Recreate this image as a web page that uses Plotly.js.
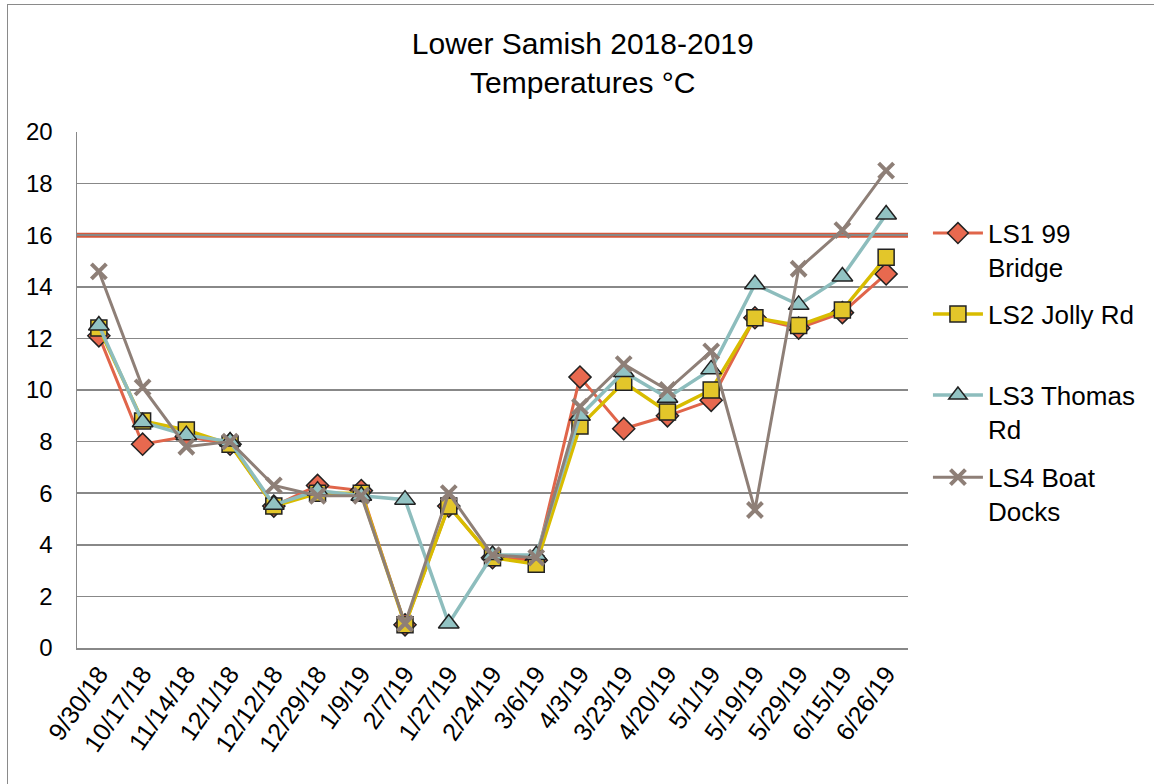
<!DOCTYPE html>
<html>
<head>
<meta charset="utf-8">
<script src="https://cdn.plot.ly/plotly-3.0.1.min.js"></script>
<style>
  html, body { margin: 0; padding: 0; background: #fff; }
  #frame { position: absolute; left: 7px; top: 4px; width: 1160px; height: 800px;
           border-left: 1.5px solid #8a8a8a; border-top: 1.5px solid #8a8a8a; pointer-events: none; }
  #chart { width: 1154px; height: 784px; }
</style>
</head>
<body>
<div id="chart"></div>
<div id="frame"></div>
<script>
// ---- data ----
const dates = ["9/30/18","10/17/18","11/14/18","12/1/18","12/12/18","12/29/18","1/9/19","2/7/19","1/27/19",
               "2/24/19","3/6/19","4/3/19","3/23/19","4/20/19","5/1/19","5/19/19","5/29/19","6/15/19","6/26/19"];
const ls1_99Bridge   = [12.1, 7.9, 8.2, 7.9, 5.5, 6.3, 6.1, 0.9, 5.5, 3.5, 3.4, 10.5, 8.5, 9.0, 9.6, 12.8, 12.4, 13.0, 14.5];
const ls2_JollyRd    = [12.4, 8.8, 8.45, 7.9, 5.5, 6.0, 6.0, 0.9, 5.5, 3.5, 3.25, 8.6, 10.3, 9.15, 10.0, 12.8, 12.5, 13.1, 15.15];
const ls3_ThomasRd   = [12.5, 8.75, 8.25, 8.0, 5.55, 6.1, 5.9, 5.75, 0.95, 3.6, 3.6, 9.0, 10.7, 9.7, 10.8, 14.1, 13.3, 14.4, 16.8];
const ls4_BoatDocks  = [14.6, 10.1, 7.8, 8.0, 6.3, 5.9, 5.9, 0.95, 6.0, 3.6, 3.5, 9.35, 11.0, 10.0, 11.5, 5.35, 14.7, 16.2, 18.5];
const seriesNames = ["LS1 99<br>Bridge", "LS2 Jolly Rd", "LS3 Thomas<br>Rd", "LS4 Boat<br>Docks"];
const thresholdC = 16;
const yTicks = [0, 2, 4, 6, 8, 10, 12, 14, 16, 18, 20];

const FONT = "Liberation Sans, Arial, sans-serif";
const outline = { color: "#222", width: 1.5 };

const traces = [
  { x: dates, y: ls1_99Bridge, name: seriesNames[0], legend: "legend",
    mode: "lines+markers", line: { color: "#e0654a", width: 3 },
    marker: { symbol: "diamond", size: 17, color: "#e8694f", line: outline } },
  { x: dates, y: ls2_JollyRd, name: seriesNames[1], legend: "legend2",
    mode: "lines+markers", line: { color: "#d8bc00", width: 3.5 },
    marker: { symbol: "square", size: 16, color: "#e3c62a", line: outline } },
  { x: dates, y: ls3_ThomasRd, name: seriesNames[2], legend: "legend3",
    mode: "lines+markers", line: { color: "#8dbdbd", width: 3.5 },
    marker: { symbol: "triangle-up", size: 18, color: "#92c3c3", line: outline } },
  { x: dates, y: ls4_BoatDocks, name: seriesNames[3], legend: "legend4",
    mode: "lines+markers", line: { color: "#8e7f77", width: 3 },
    marker: { symbol: "x-thin", size: 15, color: "#8e7f77", line: { color: "#8e7f77", width: 4 } } }
];

function leg(y) {
  return { x: 1.024, xanchor: "left", y: y, yanchor: "middle", valign: "top",
           font: { family: FONT, size: 26, color: "#000" }, bgcolor: "rgba(0,0,0,0)",
           itemwidth: 50, tracegroupgap: 0 };
}

const layout = {
  width: 1154, height: 784,
  margin: { l: 77, r: 246, t: 132, b: 136 },
  paper_bgcolor: "#fff", plot_bgcolor: "#fff",
  font: { family: FONT, size: 24, color: "#000" },
  title: { text: "Lower Samish 2018-2019<br>Temperatures °C", font: { family: FONT, size: 30, color: "#000" },
           x: 0.505, xref: "container", xanchor: "center", y: 1 - 54/784, yref: "container", yanchor: "top" },
  xaxis: { type: "category", categoryorder: "array", categoryarray: dates, range: [-0.5, 18.5],
           showgrid: false, showline: true, linecolor: "#888", linewidth: 1.5,
           tickangle: -55, ticks: "", tickfont: { family: FONT, size: 25, color: "#000" } },
  yaxis: { range: [0, 20], tickvals: yTicks, ticktext: yTicks.map(String), showgrid: true, gridcolor: "#888", gridwidth: 1.5,
           zeroline: true, zerolinecolor: "#888", zerolinewidth: 1.5,
           showline: true, linecolor: "#888", linewidth: 1.5, ticks: "", ticklabelstandoff: 18,
           tickfont: { family: FONT, size: 24, color: "#000" } },
  shapes: [
    { type: "line", xref: "paper", yref: "y", x0: 0, x1: 1, y0: thresholdC, y1: thresholdC,
      line: { color: "#d4583c", width: 5 }, layer: "below" }
  ],
  legend: leg(0.771),
  legend2: leg(0.647),
  legend3: leg(0.457),
  legend4: leg(0.298),
  showlegend: true
};

Plotly.newPlot("chart", traces, layout, { displayModeBar: false, staticPlot: true });
</script>
</body>
</html>
